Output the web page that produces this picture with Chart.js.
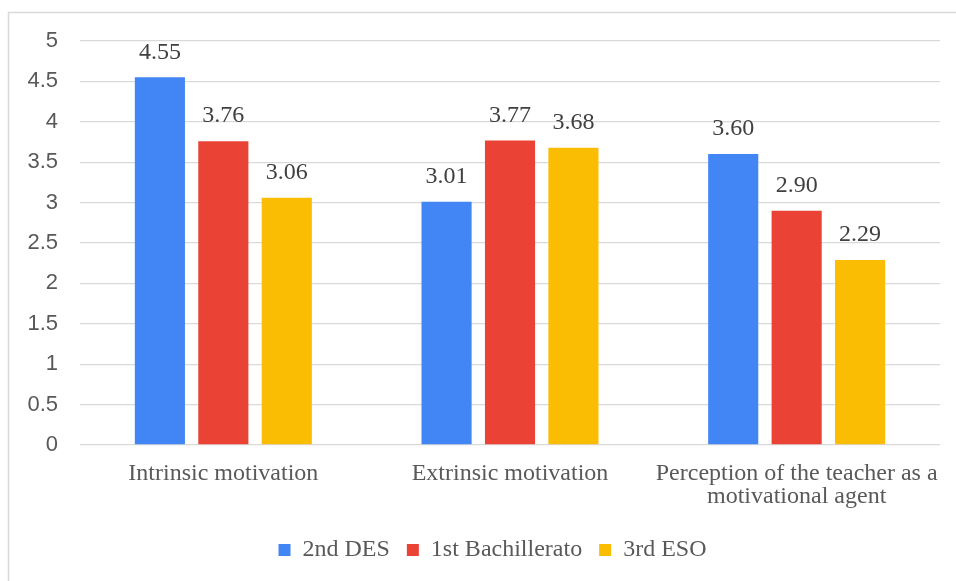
<!DOCTYPE html>
<html>
<head>
<meta charset="utf-8">
<script src="https://cdn.jsdelivr.net/npm/chart.js@4/dist/chart.umd.min.js"></script>
<style>
  html, body {margin: 0; padding: 0; background: #fff;}
  #wrap {width: 956px; height: 581px;}
</style>
</head>
<body>
<div id="wrap"><canvas id="chart" width="956" height="581"></canvas></div>
<script>
const categories = [
  'Intrinsic motivation',
  'Extrinsic motivation',
  ['Perception of the teacher as a', 'motivational agent'],
];
const seriesNames = ['2nd DES', '1st Bachillerato', '3rd ESO'];
const des2 = [4.55, 3.01, 3.60];
const bach1 = [3.76, 3.77, 2.90];
const eso3 = [3.06, 3.68, 2.29];
const colors = ['#4285F4', '#EA4335', '#FBBC04'];

const serif = '"Liberation Serif", "Times New Roman", serif';
const sans = '"Liberation Sans", Arial, sans-serif';

// frame round the whole chart, legend nudged to the right
const frame = {
  id: 'frame',
  afterLayout(chart) {
    chart.legend.left += 18;
    chart.legend.right += 18;
  },
  beforeDraw(chart) {
    const {ctx} = chart;
    ctx.save();
    ctx.fillStyle = '#fff';
    ctx.fillRect(0, 0, chart.width, chart.height);
    ctx.strokeStyle = '#d9d9d9';
    ctx.lineWidth = 1.5;
    ctx.strokeRect(8.5, 12.5, chart.width, chart.height);
    ctx.restore();
  },
};

// value labels above the bars
const barLabels = {
  id: 'barLabels',
  afterDatasetsDraw(chart) {
    const {ctx} = chart;
    ctx.save();
    ctx.font = '24px ' + serif;
    ctx.fillStyle = '#404040';
    ctx.textAlign = 'center';
    ctx.textBaseline = 'middle';
    chart.data.datasets.forEach((ds, i) => {
      chart.getDatasetMeta(i).data.forEach((bar, j) => {
        ctx.fillText(ds.data[j].toFixed(2), bar.x, bar.y - 25);
      });
    });
    ctx.restore();
  },
};

new Chart(document.getElementById('chart'), {
  type: 'bar',
  data: {
    labels: categories,
    datasets: [des2, bach1, eso3].map((d, i) => ({
      label: seriesNames[i],
      data: d,
      backgroundColor: colors[i],
      categoryPercentage: 0.664,
      barPercentage: 0.79,
    })),
  },
  options: {
    responsive: false,
    animation: false,
    layout: {padding: {top: 41, left: 9, right: 16, bottom: 9}},
    plugins: {
      legend: {
        position: 'bottom',
        labels: {
          boxWidth: 12,
          boxHeight: 12,
          padding: 17,
          color: '#595959',
          font: {family: serif, size: 24},
        },
      },
      tooltip: {enabled: false},
    },
    scales: {
      x: {
        grid: {display: false},
        border: {display: false},
        ticks: {
          color: '#595959',
          padding: 9,
          maxRotation: 0,
          font: {family: serif, size: 24, lineHeight: 0.96},
        },
        afterFit(scale) {
          scale.height = 76;
        },
      },
      y: {
        min: 0,
        max: 5,
        grid: {color: '#d9d9d9', lineWidth: 1.3, drawTicks: false},
        border: {display: false},
        ticks: {
          stepSize: 0.5,
          color: '#595959',
          padding: 22,
          font: {family: sans, size: 22},
          callback: (v) => String(v),
        },
        afterFit(scale) {
          scale.width = 71;
        },
      },
    },
  },
  plugins: [frame, barLabels],
});
</script>
</body>
</html>
